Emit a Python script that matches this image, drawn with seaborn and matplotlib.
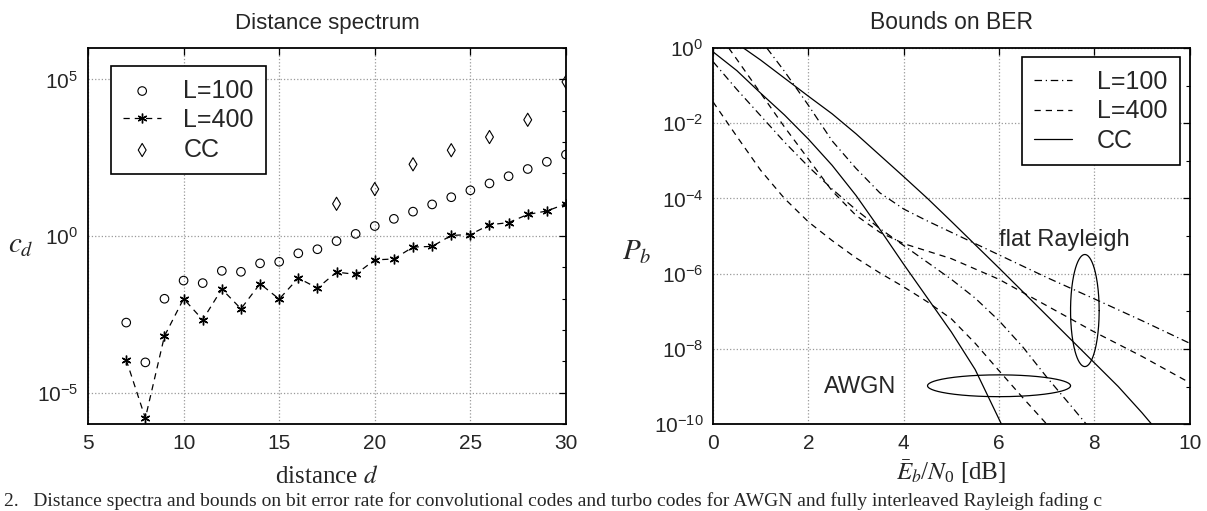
import numpy as np
import matplotlib
matplotlib.use("Agg")
import matplotlib.pyplot as plt
import seaborn as sns
from matplotlib.ticker import NullFormatter

# ---- datos: espectro de distancias ----
dist_d = list(range(7, 31))
# exponentes log10(c_d)
logc_l100 = [-2.76, -4.03, -2.00, -1.42, -1.50, -1.11, -1.14, -0.87, -0.82, -0.55,
             -0.42, -0.16, 0.07, 0.32, 0.55, 0.78, 1.01, 1.24, 1.46, 1.68,
             1.91, 2.14, 2.37, 2.60]
logc_l400 = [-3.95, -5.81, -3.19, -2.00, -2.67, -1.69, -2.32, -1.52, -2.01, -1.34,
             -1.66, -1.15, -1.22, -0.76, -0.73, -0.35, -0.33, 0.02, 0.05, 0.36,
             0.43, 0.69, 0.80, 1.03]
dist_cc = [18, 20, 22, 24, 26, 28, 30]
logc_cc = [1.03, 1.50, 2.29, 2.74, 3.16, 3.71, 4.92]

# ---- datos: cotas de BER (Eb/N0 en dB, log10 Pb) ----
snr_awgn_cc = [0, 0.5, 1, 1.5, 2, 2.5, 3, 3.5, 4, 4.5, 5, 5.5, 6.05]
logpb_awgn_cc = [-0.10, -0.60, -1.20, -1.78, -2.42, -3.12, -3.92, -4.82, -5.75,
                 -6.65, -7.55, -8.55, -10.0]
snr_awgn_100 = [0, 0.5, 1, 1.5, 2, 2.5, 3, 3.5, 4, 4.5, 5, 5.5, 6, 6.5, 7, 7.5, 7.83]
logpb_awgn_100 = [-0.36, -1.10, -1.80, -2.50, -3.15, -3.75, -4.30, -4.80, -5.25,
                  -5.70, -6.15, -6.65, -7.25, -7.95, -8.75, -9.50, -10.0]
snr_awgn_400 = [0, 0.5, 1, 1.5, 2, 2.5, 3, 3.5, 4, 4.5, 5, 5.5, 6, 6.5, 7]
logpb_awgn_400 = [-1.43, -2.35, -3.25, -4.00, -4.62, -5.12, -5.58, -5.98, -6.35,
                  -6.75, -7.20, -7.85, -8.58, -9.30, -10.0]
snr_ray_cc = [0.64, 1, 1.5, 2, 2.5, 3, 3.5, 4, 4.5, 5, 5.5, 6, 6.5, 7, 7.5, 8,
              8.5, 9, 9.2]
logpb_ray_cc = [0, -0.32, -0.80, -1.28, -1.75, -2.28, -2.85, -3.42, -4.00, -4.61,
                -5.23, -5.85, -6.48, -7.11, -7.74, -8.37, -9.00, -9.70, -10.0]
snr_ray_100 = [1.13, 1.5, 2, 2.5, 3, 3.5, 4, 4.5, 5, 5.5, 6, 7, 8, 9, 10]
logpb_ray_100 = [0, -0.62, -1.52, -2.47, -3.20, -3.85, -4.28, -4.60, -4.90, -5.20,
                 -5.50, -6.10, -6.67, -7.25, -7.85]
snr_ray_400 = [0.33, 0.5, 1, 1.5, 2, 2.5, 3, 3.5, 4, 4.5, 5, 6, 7, 8, 9, 10]
logpb_ray_400 = [0, -0.30, -1.20, -2.10, -2.95, -3.80, -4.45, -4.90, -5.20, -5.40,
                 -5.60, -6.15, -6.85, -7.55, -8.20, -8.90]

# elipses de anotacion: centro (dB, log10 Pb) y semiejes
elipse_ray = (7.80, -6.98, 0.30, 1.49)
elipse_awgn = (6.00, -8.98, 1.50, 0.29)

caption = ("2.   Distance spectra and bounds on bit error rate for convolutional codes "
           "and turbo codes for AWGN and fully interleaved Rayleigh fading c")

sns.set_theme(style="white")
plt.rcParams['font.family'] = ['Liberation Sans', 'DejaVu Sans']
plt.rcParams['mathtext.fontset'] = 'stix'
plt.rcParams['mathtext.default'] = 'regular'

fig = plt.figure(figsize=(12.07, 5.11), dpi=100)
ax1 = fig.add_axes([0.0729, 0.170, 0.396, 0.736])
ax2 = fig.add_axes([0.5907, 0.170, 0.395, 0.736])

# estilo tipo MATLAB
grid_kw = dict(color='#999999', linestyle=':', linewidth=0.9)
for ax in (ax1, ax2):
    ax.set_yscale('log')
    for s in ax.spines.values():
        s.set_linewidth(1.3)
        s.set_color('black')
    ax.tick_params(which='both', direction='in', top=True, right=True,
                   labelsize=15, pad=7, color='black')
    ax.tick_params(which='major', length=5, width=0.9)
    ax.tick_params(which='minor', length=3, width=0.8)

# ---- panel izquierdo ----
sns.scatterplot(x=dist_d, y=10 ** np.array(logc_l100), marker='o', s=38,
                facecolors='none', edgecolors='black', linewidth=0.8,
                label='L=100', ax=ax1)
sns.lineplot(x=dist_d, y=10 ** np.array(logc_l400), color='black', linewidth=0.9,
             linestyle=(0, (5, 4)), marker=(6, 2, 0), markersize=7,
             markeredgewidth=1.0, markeredgecolor='black', markerfacecolor='black',
             label='L=400', ax=ax1)
sns.scatterplot(x=dist_cc, y=10 ** np.array(logc_cc), marker='d', s=45,
                facecolors='none', edgecolors='black', linewidth=0.8,
                label='CC', ax=ax1)

ax1.set_xlim(5, 30)
ax1.set_ylim(1e-6, 1e6)
ax1.set_xticks([5, 10, 15, 20, 25, 30])
ax1.set_yticks([1e-5, 1e0, 1e5])
ax1.set_yticks([10.0 ** k for k in range(-6, 7)], minor=True)
ax1.yaxis.set_minor_formatter(NullFormatter())
ax1.grid(True, which='major', **grid_kw)
ax1.set_title('Distance spectrum', fontsize=16, pad=14)
ax1.set_xlabel(r'distance $\mathit{d}$', fontsize=18, family='Liberation Serif')
ax1.xaxis.set_label_coords(0.5, -0.11)
ax1.set_ylabel(r'$\mathit{c}_{\mathit{d}}$', fontsize=21, rotation=0)
ax1.yaxis.set_label_coords(-0.14, 0.44)
leg1 = ax1.legend(loc='upper left', bbox_to_anchor=(0.048, 0.952), borderaxespad=0,
                  fontsize=18, fancybox=False, framealpha=1, edgecolor='black',
                  handlelength=1.5, handletextpad=0.9, labelspacing=0.22,
                  borderpad=0.5)
leg1.get_frame().set_linewidth(1.2)

# ---- panel derecho ----
estilo_dashdot = (0, (6, 3, 1, 3))
estilo_dash = (0, (5, 4))
curvas = [
    (snr_awgn_cc, logpb_awgn_cc, '-', 'CC'),
    (snr_ray_cc, logpb_ray_cc, '-', None),
    (snr_awgn_100, logpb_awgn_100, estilo_dashdot, 'L=100'),
    (snr_ray_100, logpb_ray_100, estilo_dashdot, None),
    (snr_awgn_400, logpb_awgn_400, estilo_dash, 'L=400'),
    (snr_ray_400, logpb_ray_400, estilo_dash, None),
]
for xs, ls_, estilo, etiqueta in curvas:
    sns.lineplot(x=xs, y=10 ** np.array(ls_), color='black', linewidth=0.9,
                 linestyle=estilo, label=etiqueta, ax=ax2)

# elipses dibujadas en espacio log
t = np.linspace(0, 2 * np.pi, 200)
for cx, cy, a, b in (elipse_ray, elipse_awgn):
    ax2.plot(cx + a * np.cos(t), 10 ** (cy + b * np.sin(t)), color='black',
             linewidth=0.9)
ax2.text(6.0, 10 ** -5.1, 'flat Rayleigh', fontsize=17, va='center')
ax2.text(2.32, 10 ** -9.0, 'AWGN', fontsize=17, va='center')

ax2.set_xlim(0, 10)
ax2.set_ylim(1e-10, 1e0)
ax2.set_xticks([0, 2, 4, 6, 8, 10])
ax2.set_yticks([10.0 ** k for k in range(-10, 1, 2)])
ax2.set_yticks([10.0 ** k for k in range(-9, 0, 2)], minor=True)
ax2.yaxis.set_minor_formatter(NullFormatter())
ax2.grid(True, which='major', **grid_kw)
ax2.set_title('Bounds on BER', fontsize=16.5, pad=14)
ax2.set_xlabel(r'$\bar{\mathit{E}}_{\mathit{b}}/\mathit{N}_0$ [dB]', fontsize=18,
               family='Liberation Serif')
ax2.xaxis.set_label_coords(0.5, -0.09)
ax2.set_ylabel(r'$\mathit{P}_{\mathit{b}}$', fontsize=21, rotation=0)
ax2.yaxis.set_label_coords(-0.16, 0.42)

handles, labels = ax2.get_legend_handles_labels()
orden = [labels.index(k) for k in ('L=100', 'L=400', 'CC')]
leg2 = ax2.legend([handles[i] for i in orden], [labels[i] for i in orden],
                  loc='upper right', bbox_to_anchor=(0.979, 0.975), borderaxespad=0,
                  fontsize=18, fancybox=False, framealpha=1, edgecolor='black',
                  handlelength=1.5, handletextpad=1.0, labelspacing=0.22,
                  borderpad=0.5)
leg2.get_frame().set_linewidth(1.2)

fig.text(0.003, 0.002, caption, fontsize=14, family='Liberation Serif', va='bottom')

fig.savefig('out.png', dpi=100)
